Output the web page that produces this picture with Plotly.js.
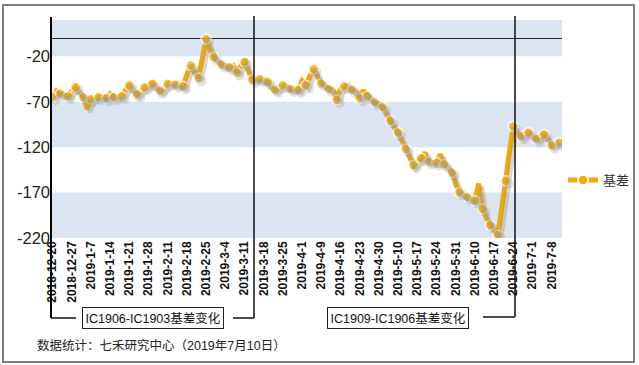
<!DOCTYPE html>
<html>
<head>
<meta charset="utf-8">
<script src="https://cdn.plot.ly/plotly-3.0.1.min.js"></script>
<style>html,body{margin:0;padding:0;background:#fff;}#chart{width:639px;height:365px;}</style>
</head>
<body>
<div id="chart"></div>
<script>
// Trading days (category axis)
const categories = [
"2018-12-20","2018-12-21","2018-12-24","2018-12-25","2018-12-26","2018-12-27","2018-12-28",
"2019-1-2","2019-1-3","2019-1-4","2019-1-7","2019-1-8","2019-1-9","2019-1-10","2019-1-11","2019-1-14","2019-1-15","2019-1-16","2019-1-17","2019-1-18","2019-1-21","2019-1-22","2019-1-23","2019-1-24","2019-1-25","2019-1-28","2019-1-29","2019-1-30","2019-1-31",
"2019-2-1","2019-2-11","2019-2-12","2019-2-13","2019-2-14","2019-2-15","2019-2-18","2019-2-19","2019-2-20","2019-2-21","2019-2-22","2019-2-25","2019-2-26","2019-2-27","2019-2-28",
"2019-3-1","2019-3-4","2019-3-5","2019-3-6","2019-3-7","2019-3-8","2019-3-11","2019-3-12","2019-3-13","2019-3-14","2019-3-15","2019-3-18","2019-3-19","2019-3-20","2019-3-21","2019-3-22","2019-3-25","2019-3-26","2019-3-27","2019-3-28","2019-3-29",
"2019-4-1","2019-4-2","2019-4-3","2019-4-4","2019-4-8","2019-4-9","2019-4-10","2019-4-11","2019-4-12","2019-4-15","2019-4-16","2019-4-17","2019-4-18","2019-4-19","2019-4-22","2019-4-23","2019-4-24","2019-4-25","2019-4-26","2019-4-29","2019-4-30",
"2019-5-6","2019-5-7","2019-5-8","2019-5-9","2019-5-10","2019-5-13","2019-5-14","2019-5-15","2019-5-16","2019-5-17","2019-5-20","2019-5-21","2019-5-22","2019-5-23","2019-5-24","2019-5-27","2019-5-28","2019-5-29","2019-5-30","2019-5-31",
"2019-6-3","2019-6-4","2019-6-5","2019-6-6","2019-6-10","2019-6-11","2019-6-12","2019-6-13","2019-6-14","2019-6-17","2019-6-18","2019-6-19","2019-6-20","2019-6-21","2019-6-24","2019-6-25","2019-6-26","2019-6-27","2019-6-28",
"2019-7-1","2019-7-2","2019-7-3","2019-7-4","2019-7-5","2019-7-8","2019-7-9","2019-7-10"
];

// 基差 values, one per trading day
const basis = [
-65,-58,-61,-63,-64,-58,-54,-60,-65,-78,
-67,-66,-65,-64,-66,-61,-65,-64,-64,-57,
-52,-58,-62,-58,-54,-52,-50,-55,-58,-55,
-50,-50,-51,-52,-53,-40,-30,-38,-44,-22,
-1,-12,-21,-25,-29,-31,-32,-30,-38,-31,
-26,-36,-46,-45,-45,-47,-48,-55,-57,-54,
-52,-53,-56,-56,-57,-47,-52,-42,-34,-42,
-50,-53,-56,-57,-68,-56,-53,-52,-57,-58,
-66,-57,-64,-67,-71,-72,-76,-84,-91,-97,
-104,-113,-122,-131,-140,-136,-132,-126,-136,-137,
-137,-128,-139,-142,-148,-160,-170,-173,-175,-177,
-179,-160,-188,-198,-206,-212,-217,-190,-157,-125,
-97,-104,-108,-105,-104,-108,-111,-108,-106,-111,
-118,-116,-115
];

const tickLabels = [
"2018-12-20","2018-12-27","2019-1-7","2019-1-14","2019-1-21","2019-1-28","2019-2-11","2019-2-18","2019-2-25",
"2019-3-4","2019-3-11","2019-3-18","2019-3-25","2019-4-1","2019-4-9","2019-4-16","2019-4-23","2019-4-30",
"2019-5-10","2019-5-17","2019-5-24","2019-5-31","2019-6-10","2019-6-17","2019-6-24","2019-7-1","2019-7-8"
];

const yTicks = [-220, -170, -120, -70, -20];
const yTop = 20;

const seriesName = "基差";
const boxLabels = ["IC1906-IC1903基差变化", "IC1909-IC1906基差变化"];
const footer = "数据统计：七禾研究中心（2019年7月10日）";

// ---- styling / layout ----
const ORANGE = "#F5A800";
const SHADOW = "rgba(150,150,150,0.4)";
const FONT = "Liberation Sans, Arial, Noto Sans CJK SC, sans-serif";

// pixel helpers (plot area 51..562 x 20..238)
const L = 51, R = 562, T = 20, B = 238;
const W = R - L, H = B - T;
const px = p => (p - L) / W;
const py = p => (B - p) / H;

const xRange = [-0.4, 132.7];
const yRange = [yTicks[0], yTop];
const unitX = W / (xRange[1] - xRange[0]);
const unitY = H / (yRange[1] - yRange[0]);
const sh = 3; // shadow offset px

const mSize = basis.map((v, i) => (i % 2 === 0 ? 10 : 0));
const mLine = basis.map((v, i) => (i % 2 === 0 ? 1.7 : 0));

const traces = [
  {
    x: categories, y: basis, xaxis: "x2", yaxis: "y2", type: "scatter", mode: "lines+markers",
    line: { color: SHADOW, width: 5 }, marker: { size: mSize, color: SHADOW, line: { width: 0 } },
    showlegend: false, hoverinfo: "skip"
  },
  {
    x: categories, y: basis, type: "scatter", mode: "lines+markers", name: seriesName,
    line: { color: ORANGE, width: 5 },
    marker: { size: mSize, color: ORANGE, line: { color: "#ffffff", width: mLine } },
    showlegend: false
  },
  {
    x: [null], y: [null], type: "scatter", mode: "lines+markers", name: seriesName,
    line: { color: ORANGE, width: 5 },
    marker: { size: 10, color: ORANGE, line: { color: "#ffffff", width: 1.7 } },
    showlegend: true
  }
];

const shapes = [];
// alternating background bands
for (let i = 0; i < yTicks.length; i += 2) {
  const y0 = yTicks[i];
  const y1 = i + 1 < yTicks.length ? yTicks[i + 1] : yTop;
  shapes.push({ type: "rect", xref: "paper", yref: "y", x0: 0, x1: 1, y0: y0, y1: y1,
    fillcolor: "#DBE5F1", line: { width: 0 }, layer: "below" });
}
const lineStyle = { color: "#111111", width: 1.5 };
// y axis line extended down into the bracket
shapes.push({ type: "line", xref: "paper", yref: "paper", x0: 0, x1: 0, y0: py(318), y1: py(17), line: { color: "#000", width: 2 } });
// bracket 1
shapes.push({ type: "line", xref: "paper", yref: "paper", x0: 0, x1: px(76), y0: py(318), y1: py(318), line: lineStyle });
shapes.push({ type: "line", xref: "paper", yref: "paper", x0: px(233), x1: px(254), y0: py(318), y1: py(318), line: lineStyle });
shapes.push({ type: "line", xref: "paper", yref: "paper", x0: px(254), x1: px(254), y0: py(318), y1: py(16), line: lineStyle });
// bracket 2
shapes.push({ type: "line", xref: "paper", yref: "paper", x0: px(483), x1: px(515), y0: py(317), y1: py(317), line: lineStyle });
shapes.push({ type: "line", xref: "paper", yref: "paper", x0: px(515), x1: px(515), y0: py(317), y1: py(16), line: lineStyle });
// outer frame
shapes.push({ type: "rect", xref: "paper", yref: "paper", x0: px(3), x1: px(634), y0: py(362), y1: py(5),
  line: { color: "#7F7F7F", width: 2 }, fillcolor: "rgba(0,0,0,0)" });

const annotations = [
  { xref: "paper", yref: "paper", x: px(153), y: py(318), xanchor: "center", yanchor: "middle",
    text: boxLabels[0], showarrow: false,
    font: { family: FONT, size: 12.5, color: "#111" }, bordercolor: "#222", borderwidth: 1, borderpad: 2.5, bgcolor: "#fff" },
  { xref: "paper", yref: "paper", x: px(398), y: py(318), xanchor: "center", yanchor: "middle",
    text: boxLabels[1], showarrow: false,
    font: { family: FONT, size: 12.5, color: "#111" }, bordercolor: "#222", borderwidth: 1, borderpad: 2.5, bgcolor: "#fff" },
  { xref: "paper", yref: "paper", x: px(35), y: py(345), xanchor: "left", yanchor: "middle", text: footer, showarrow: false,
    font: { family: FONT, size: 12.5, color: "#222" } }
];

const layout = {
  width: 639, height: 365,
  margin: { l: L, r: 639 - R, t: T, b: 365 - B, autoexpand: false },
  paper_bgcolor: "#ffffff", plot_bgcolor: "rgba(0,0,0,0)",
  font: { family: FONT },
  xaxis: {
    type: "category", range: xRange, tickvals: tickLabels, ticktext: tickLabels,
    tickangle: -90, tickfont: { family: FONT, size: 12, color: "#111", weight: "bold" },
    showgrid: false, zeroline: false, showline: false, ticks: "", fixedrange: true, automargin: false
  },
  yaxis: {
    range: yRange, tickvals: yTicks, ticktext: yTicks.map(String),
    tickfont: { family: FONT, size: 16.5, color: "#222" },
    showgrid: false, zeroline: true, zerolinecolor: "#222", zerolinewidth: 1.3,
    showline: false, ticks: "", fixedrange: true, automargin: false
  },
  xaxis2: { type: "category", overlaying: "x", visible: false,
    range: [xRange[0] - sh / unitX, xRange[1] - sh / unitX], fixedrange: true },
  yaxis2: { overlaying: "y", visible: false,
    range: [yRange[0] + sh / unitY, yRange[1] + sh / unitY], fixedrange: true },
  legend: { x: px(563), xanchor: "left", y: py(180), yanchor: "middle", bgcolor: "rgba(0,0,0,0)",
    font: { family: FONT, size: 13, color: "#333" }, itemwidth: 30 },
  shapes: shapes,
  annotations: annotations
};

Plotly.newPlot("chart", traces, layout, { displayModeBar: false, staticPlot: true });
</script>
</body>
</html>
